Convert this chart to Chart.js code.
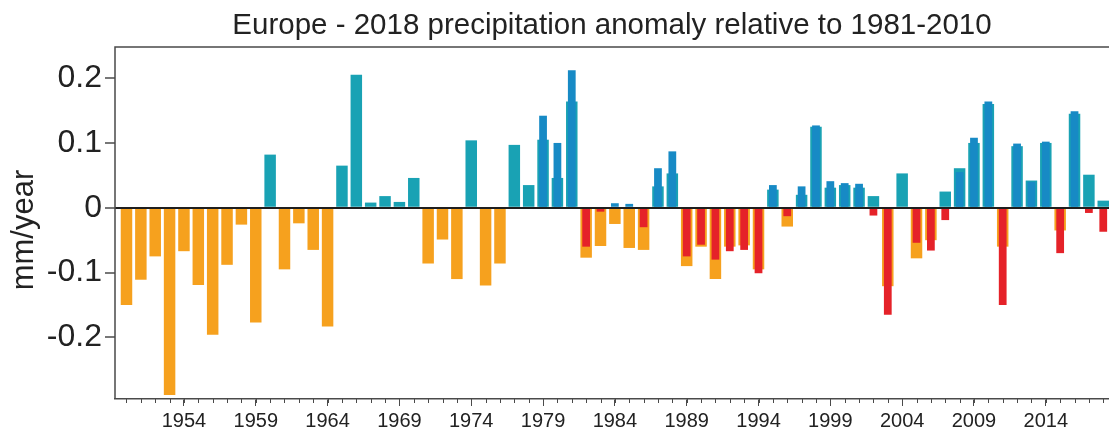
<!DOCTYPE html>
<html>
<head>
<meta charset="utf-8">
<script src="https://cdn.jsdelivr.net/npm/chart.js@4/dist/chart.umd.min.js"></script>
<style>
  html, body { margin: 0; padding: 0; background: #fff; overflow: hidden; }
</style>
</head>
<body>
<canvas id="chart" width="1109" height="434"></canvas>
<script>
// Annual European precipitation anomaly, two overlaid annual series
const titleText = 'Europe - 2018 precipitation anomaly relative to 1981-2010';
const yAxisTitle = 'mm/year';

const years = [
  1950, 1951, 1952, 1953, 1954, 1955, 1956, 1957, 1958, 1959,
  1960, 1961, 1962, 1963, 1964, 1965, 1966, 1967, 1968, 1969,
  1970, 1971, 1972, 1973, 1974, 1975, 1976, 1977, 1978, 1979,
  1980, 1981, 1982, 1983, 1984, 1985, 1986, 1987, 1988, 1989,
  1990, 1991, 1992, 1993, 1994, 1995, 1996, 1997, 1998, 1999,
  2000, 2001, 2002, 2003, 2004, 2005, 2006, 2007, 2008, 2009,
  2010, 2011, 2012, 2013, 2014, 2015, 2016, 2017, 2018
];

// wide bars (orange when dry, teal when wet)
const seriesA = [
  -0.150, -0.111, -0.075, -0.289, -0.067, -0.119, -0.196, -0.088, -0.026, -0.177,
   0.082, -0.095, -0.024, -0.065, -0.183,  0.065,  0.205,  0.008,  0.018,  0.009,
   0.046, -0.086, -0.049, -0.110,  0.104, -0.120, -0.086,  0.097,  0.035,  0.105,
   0.046,  0.164, -0.077, -0.059, -0.025, -0.062, -0.065,  0.033,  0.053, -0.090,
  -0.060, -0.110, -0.060, -0.058, -0.095,  0.028, -0.029,  0.020,  0.125,  0.031,
   0.035,  0.031,  0.018, -0.121,  0.053, -0.078, -0.050,  0.025,  0.061,  0.100,
   0.160, -0.060,  0.095,  0.042,  0.100, -0.035,  0.145,  0.051,  0.011
];

// narrow bars drawn in front (red when dry, blue when wet)
const seriesB = [
  null, null, null, null, null, null, null, null, null, null,
  null, null, null, null, null, null, null, null, null, null,
  null, null, null, null, null, null, null, null, null, 0.142,
   0.100,  0.212, -0.060, -0.006,  0.007,  0.006, -0.030,  0.061,  0.087, -0.075,
  -0.057, -0.080, -0.067, -0.065, -0.101,  0.035, -0.013,  0.033,  0.127,  0.041,
   0.038,  0.037, -0.012, -0.165,  null,  -0.054, -0.066, -0.019,  0.055,  0.108,
   0.164, -0.150,  0.099,  0.040,  0.102, -0.070,  0.149, -0.008, -0.037
];

const xTickYears = [1954, 1959, 1964, 1969, 1974, 1979, 1984, 1989, 1994, 1999, 2004, 2009, 2014];
const yTickValues = [-0.2, -0.1, 0, 0.1, 0.2];
const yTickLabels = ['-0.2', '-0.1', '0', '0.1', '0.2'];

const COLORS = {
  orange: '#f6a11e',
  teal: '#19a2b4',
  red: '#e52229',
  blue: '#178ac5',
  axis: '#4a4a4a',
  text: '#222222'
};
const FONT = '"Liberation Sans", Arial, Helvetica, sans-serif';

const pointsOf = (values) => years.map((yr, i) => ({ x: yr, y: values[i] }));

// frame lines, yearly minor ticks, axis title and the title centred over the plot
const framePlugin = {
  id: 'frame',
  afterDraw(chart) {
    const { ctx, chartArea: a } = chart;
    const xs = chart.scales.x;
    ctx.save();
    ctx.strokeStyle = COLORS.axis;
    ctx.lineWidth = 1.5;
    ctx.beginPath();
    ctx.moveTo(a.right, a.top);
    ctx.lineTo(a.left, a.top);
    ctx.lineTo(a.left, a.bottom);
    ctx.stroke();

    ctx.lineWidth = 1;
    ctx.beginPath();
    years.forEach((yr) => {
      const px = Math.round(xs.getPixelForValue(yr)) + 0.5;
      ctx.moveTo(px, a.bottom);
      ctx.lineTo(px, a.bottom + 4);
    });
    ctx.stroke();

    ctx.fillStyle = COLORS.text;
    ctx.font = '29.5px ' + FONT;
    ctx.textAlign = 'center';
    ctx.textBaseline = 'alphabetic';
    ctx.fillText(titleText, (a.left + a.right) / 2, 34);

    ctx.translate(24, (a.top + a.bottom) / 2 + 7);
    ctx.rotate(-Math.PI / 2);
    ctx.font = '31px ' + FONT;
    ctx.textBaseline = 'middle';
    ctx.fillText(yAxisTitle, 0, 0);
    ctx.restore();
  }
};

new Chart(document.getElementById('chart'), {
  type: 'bar',
  data: {
    datasets: [
      {
        label: 'B',
        data: pointsOf(seriesB),
        grouped: false,
        order: 1,
        categoryPercentage: 1,
        barPercentage: 0.54,
        borderWidth: 0,
        backgroundColor: (c) => (c.raw && c.raw.y < 0 ? COLORS.red : COLORS.blue)
      },
      {
        label: 'A',
        data: pointsOf(seriesA),
        grouped: false,
        order: 2,
        categoryPercentage: 1,
        barPercentage: 0.8,
        borderWidth: 0,
        backgroundColor: (c) => (c.raw && c.raw.y < 0 ? COLORS.orange : COLORS.teal)
      }
    ]
  },
  options: {
    responsive: false,
    animation: false,
    devicePixelRatio: 1,
    layout: { padding: { top: 47, left: 0, right: 0, bottom: 0 } },
    plugins: {
      legend: { display: false },
      tooltip: { enabled: false },
      title: { display: false }
    },
    scales: {
      x: {
        type: 'linear',
        min: 1949.2,
        max: 2018.4,
        offset: false,
        grid: {
          drawOnChartArea: false,
          drawTicks: true,
          tickLength: 7,
          tickWidth: 1,
          tickColor: COLORS.axis,
          offset: false
        },
        border: { display: true, color: COLORS.axis, width: 1.5 },
        ticks: {
          autoSkip: false,
          maxRotation: 0,
          padding: 3,
          color: COLORS.text,
          font: { family: FONT, size: 20 },
          callback: (v) => (xTickYears.includes(v) ? String(v) : '')
        },
        afterBuildTicks: (s) => { s.ticks = xTickYears.map((v) => ({ value: v })); },
        afterFit: (s) => { s.height = 35; }
      },
      y: {
        min: -0.295,
        max: 0.248,
        grid: {
          z: 1,
          color: (c) => (c.tick && c.tick.value === 0 ? '#1e1e1e' : 'rgba(0,0,0,0)'),
          lineWidth: 2,
          drawTicks: true,
          tickLength: 10,
          tickWidth: 1.5,
          tickColor: COLORS.axis
        },
        border: { display: false },
        ticks: {
          padding: 3,
          color: COLORS.text,
          font: { family: FONT, size: 32 },
          callback: (v) => {
            const i = yTickValues.findIndex((t) => Math.abs(t - v) < 1e-9);
            return i >= 0 ? yTickLabels[i] : '';
          }
        },
        title: { display: false },
        afterBuildTicks: (s) => { s.ticks = yTickValues.map((v) => ({ value: v })); },
        afterFit: (s) => { s.width = 115; }
      }
    }
  },
  plugins: [framePlugin]
});
</script>
</body>
</html>
